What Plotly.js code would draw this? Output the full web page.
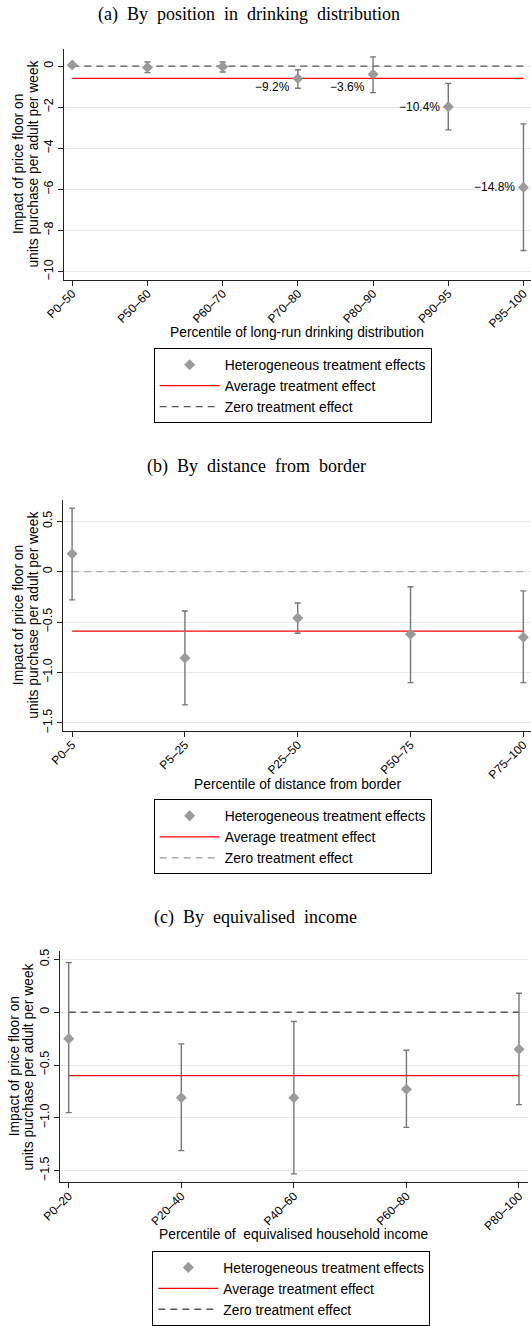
<!DOCTYPE html>
<html><head><meta charset="utf-8">
<script src="https://cdn.plot.ly/plotly-3.0.1.min.js"></script>
<style>html,body{margin:0;padding:0;background:#fff}#chart{width:531px;height:1326px}</style>
</head><body><div id="chart"></div>
<script>
// ---------- Data ----------
// Panel (a): by position in drinking distribution
const catsA = ['P0–50','P50–60','P60–70','P70–80','P80–90','P90–95','P95–100'];
const estA  = [0.05, -0.07, -0.03, -0.60, -0.40, -1.98, -5.90];
const loA   = [0.00, -0.32, -0.29, -1.08, -1.29, -3.10, -8.97];
const hiA   = [0.10,  0.20,  0.20, -0.18,  0.45, -0.85, -2.81];
const labelsA = ['', '', '', '−9.2%', '−3.6%', '−10.4%', '−14.8%'];
const ateA = -0.60;
const yTickValsA = [0, -2, -4, -6, -8, -10];
const yTickTextA = ['0', '−2', '−4', '−6', '−8', '−10'];

// Panel (b): by distance from border
const catsB = ['P0–5','P5–25','P25–50','P50–75','P75–100'];
const estB  = [0.177, -0.856, -0.46, -0.62, -0.65];
const loB   = [-0.28, -1.32, -0.61, -1.10, -1.10];
const hiB   = [0.63, -0.39, -0.31, -0.15, -0.19];
const ateB = -0.59;

// Panel (c): by equivalised income
const catsC = ['P0–20','P20–40','P40–60','P60–80','P80–100'];
const estC  = [-0.25, -0.81, -0.81, -0.73, -0.35];
const loC   = [-0.95, -1.31, -1.53, -1.09, -0.875];
const hiC   = [0.47, -0.30, -0.088, -0.36, 0.18];
const ateC = -0.60;

const yTickValsBC = [0.5, 0, -0.5, -1, -1.5];
const yTickTextBC = ['0.5', '0', '−0.5', '−1.0', '−1.5'];

const titles = ['(a)  By  position  in  drinking  distribution', '(b)  By  distance  from  border', '(c)  By  equivalised  income'];
const xTitles = ['Percentile of long-run drinking distribution', 'Percentile of distance from border', 'Percentile of  equivalised household income'];
const yTitleLines = ['Impact of price floor on', 'units purchase per adult per week'];
const legendNames = ['Heterogeneous treatment effects', 'Average treatment effect', 'Zero treatment effect'];

// ---------- Style ----------
const W = 531, H = 1326;
const SANS = 'Liberation Sans, Arial, sans-serif';
const SERIF = 'Liberation Serif, Times New Roman, serif';
const px = v => v / W;
const py = v => 1 - v / H;

const panels = [
  {cats: catsA, est: estA, lo: loA, hi: hiA, ate: ateA, zeroColor: '#555',
   xd: [63.7, 531], yd: [49.3, 282.7], xr: [-0.114, 6.1], yr: [-10.4, 0.84],
   tv: yTickValsA, tt: yTickTextA, titleXY: [249, 15], xTitleXY: [297, 336], yTitleX: [18.6, 33.2], legXY: [153.7, 351.7]},
  {cats: catsB, est: estB, lo: loB, hi: hiB, ate: ateB, zeroColor: '#aaa',
   xd: [63.3, 531], yd: [505, 738.3], xr: [-0.078, 4.068], yr: [-1.58, 0.71],
   tv: yTickValsBC, tt: yTickTextBC, titleXY: [256, 471], xTitleXY: [297, 792], yTitleX: [18.6, 33.2], legXY: [153.7, 807.3]},
  {cats: catsC, est: estC, lo: loC, hi: hiC, ate: ateC, zeroColor: '#555',
   xd: [59.6, 528], yd: [960.7, 1194], xr: [-0.081, 4.08], yr: [-1.61, 0.577],
   tv: yTickValsBC, tt: yTickTextBC, titleXY: [255, 927], xTitleXY: [294, 1247], yTitleX: [14.5, 28.8], legXY: [152.3, 1263.3]}
];

const traces = [];
const layout = {
  width: W, height: H,
  margin: {l: 0, r: 0, t: 0, b: 0},
  paper_bgcolor: '#fff', plot_bgcolor: '#fff',
  showlegend: true,
  font: {family: SANS, size: 12, color: '#000'},
  annotations: []
};

panels.forEach((p, k) => {
  const sfx = k === 0 ? '' : String(k + 1);
  const xa = 'x' + sfx, ya = 'y' + sfx;
  const leg = 'legend' + sfx;
  traces.push({
    type: 'scatter', mode: 'lines', x: p.cats, y: p.cats.map(() => 0),
    xaxis: xa, yaxis: ya, legend: leg, name: legendNames[2], legendrank: 3,
    line: {color: p.zeroColor, width: 1.3, dash: '7px,5px'}, hoverinfo: 'skip'
  });
  traces.push({
    type: 'scatter', mode: 'lines', x: p.cats, y: p.cats.map(() => p.ate),
    xaxis: xa, yaxis: ya, legend: leg, name: legendNames[1], legendrank: 2,
    line: {color: '#ff0000', width: 1.3}, hoverinfo: 'skip'
  });
  traces.push({
    type: 'scatter', mode: 'markers', x: p.cats, y: p.est,
    xaxis: xa, yaxis: ya, legend: leg, name: legendNames[0], legendrank: 1,
    marker: {symbol: 'diamond', size: 8.5, color: '#9b9b9b'},
    error_y: {type: 'data', symmetric: false,
      array: p.hi.map((h, i) => h - p.est[i]),
      arrayminus: p.est.map((e, i) => e - p.lo[i]),
      color: '#777', thickness: 1.4, width: 3}
  });

  layout['xaxis' + sfx] = {
    domain: [px(p.xd[0]), px(p.xd[1])], anchor: ya, type: 'category',
    range: p.xr, showline: true, linecolor: '#222', linewidth: 1,
    ticks: 'outside', ticklen: 5, tickcolor: '#222', tickangle: -45,
    ticklabelstandoff: -4,
    tickfont: {size: 12, family: SANS}, showgrid: false, zeroline: false, fixedrange: true
  };
  layout['yaxis' + sfx] = {
    domain: [py(p.yd[1]), py(p.yd[0])], anchor: xa,
    range: p.yr, showline: true, linecolor: '#222', linewidth: 1,
    ticks: 'outside', ticklen: 5, tickcolor: '#222', tickangle: -90,
    tickvals: p.tv, ticktext: p.tt, tickfont: {size: 12.5, family: SANS},
    showgrid: true, gridcolor: '#e8e8e8', gridwidth: 1, zeroline: false, fixedrange: true
  };
  layout[leg] = {
    x: px(p.legXY[0]), y: py(p.legXY[1]), xanchor: 'left', yanchor: 'top',
    bordercolor: '#000', borderwidth: 1, bgcolor: '#fff',
    font: {size: 13.8, family: SANS}, itemwidth: 60, traceorder: 'normal'
  };
  layout.annotations.push({xref: 'paper', yref: 'paper', x: px(p.titleXY[0]), y: py(p.titleXY[1]),
    xanchor: 'center', yanchor: 'middle', showarrow: false, text: titles[k],
    font: {family: SERIF, size: 18}});
  layout.annotations.push({xref: 'paper', yref: 'paper', x: px(p.xTitleXY[0]), y: py(p.xTitleXY[1]),
    xanchor: 'center', yanchor: 'middle', showarrow: false, text: xTitles[k],
    font: {family: SANS, size: 13.8}});
  yTitleLines.forEach((line, j) => {
    layout.annotations.push({xref: 'paper', yref: 'paper', x: px(p.yTitleX[j]), y: py((p.yd[0] + p.yd[1]) / 2),
      xanchor: 'center', yanchor: 'middle', showarrow: false, text: line, textangle: -90,
      font: {family: SANS, size: 13.8}});
  });
});

const labelDrop = {3: -9, 4: -13};
labelsA.forEach((t, i) => {
  if (!t) return;
  layout.annotations.push({xref: 'x', yref: 'y', x: catsA[i], y: estA[i], text: t,
    xanchor: 'right', yanchor: 'middle', xshift: -6, yshift: labelDrop[i] || 0,
    showarrow: false, font: {family: SANS, size: 12}});
});

Plotly.newPlot('chart', traces, layout, {staticPlot: true, displayModeBar: false});
</script></body></html>
